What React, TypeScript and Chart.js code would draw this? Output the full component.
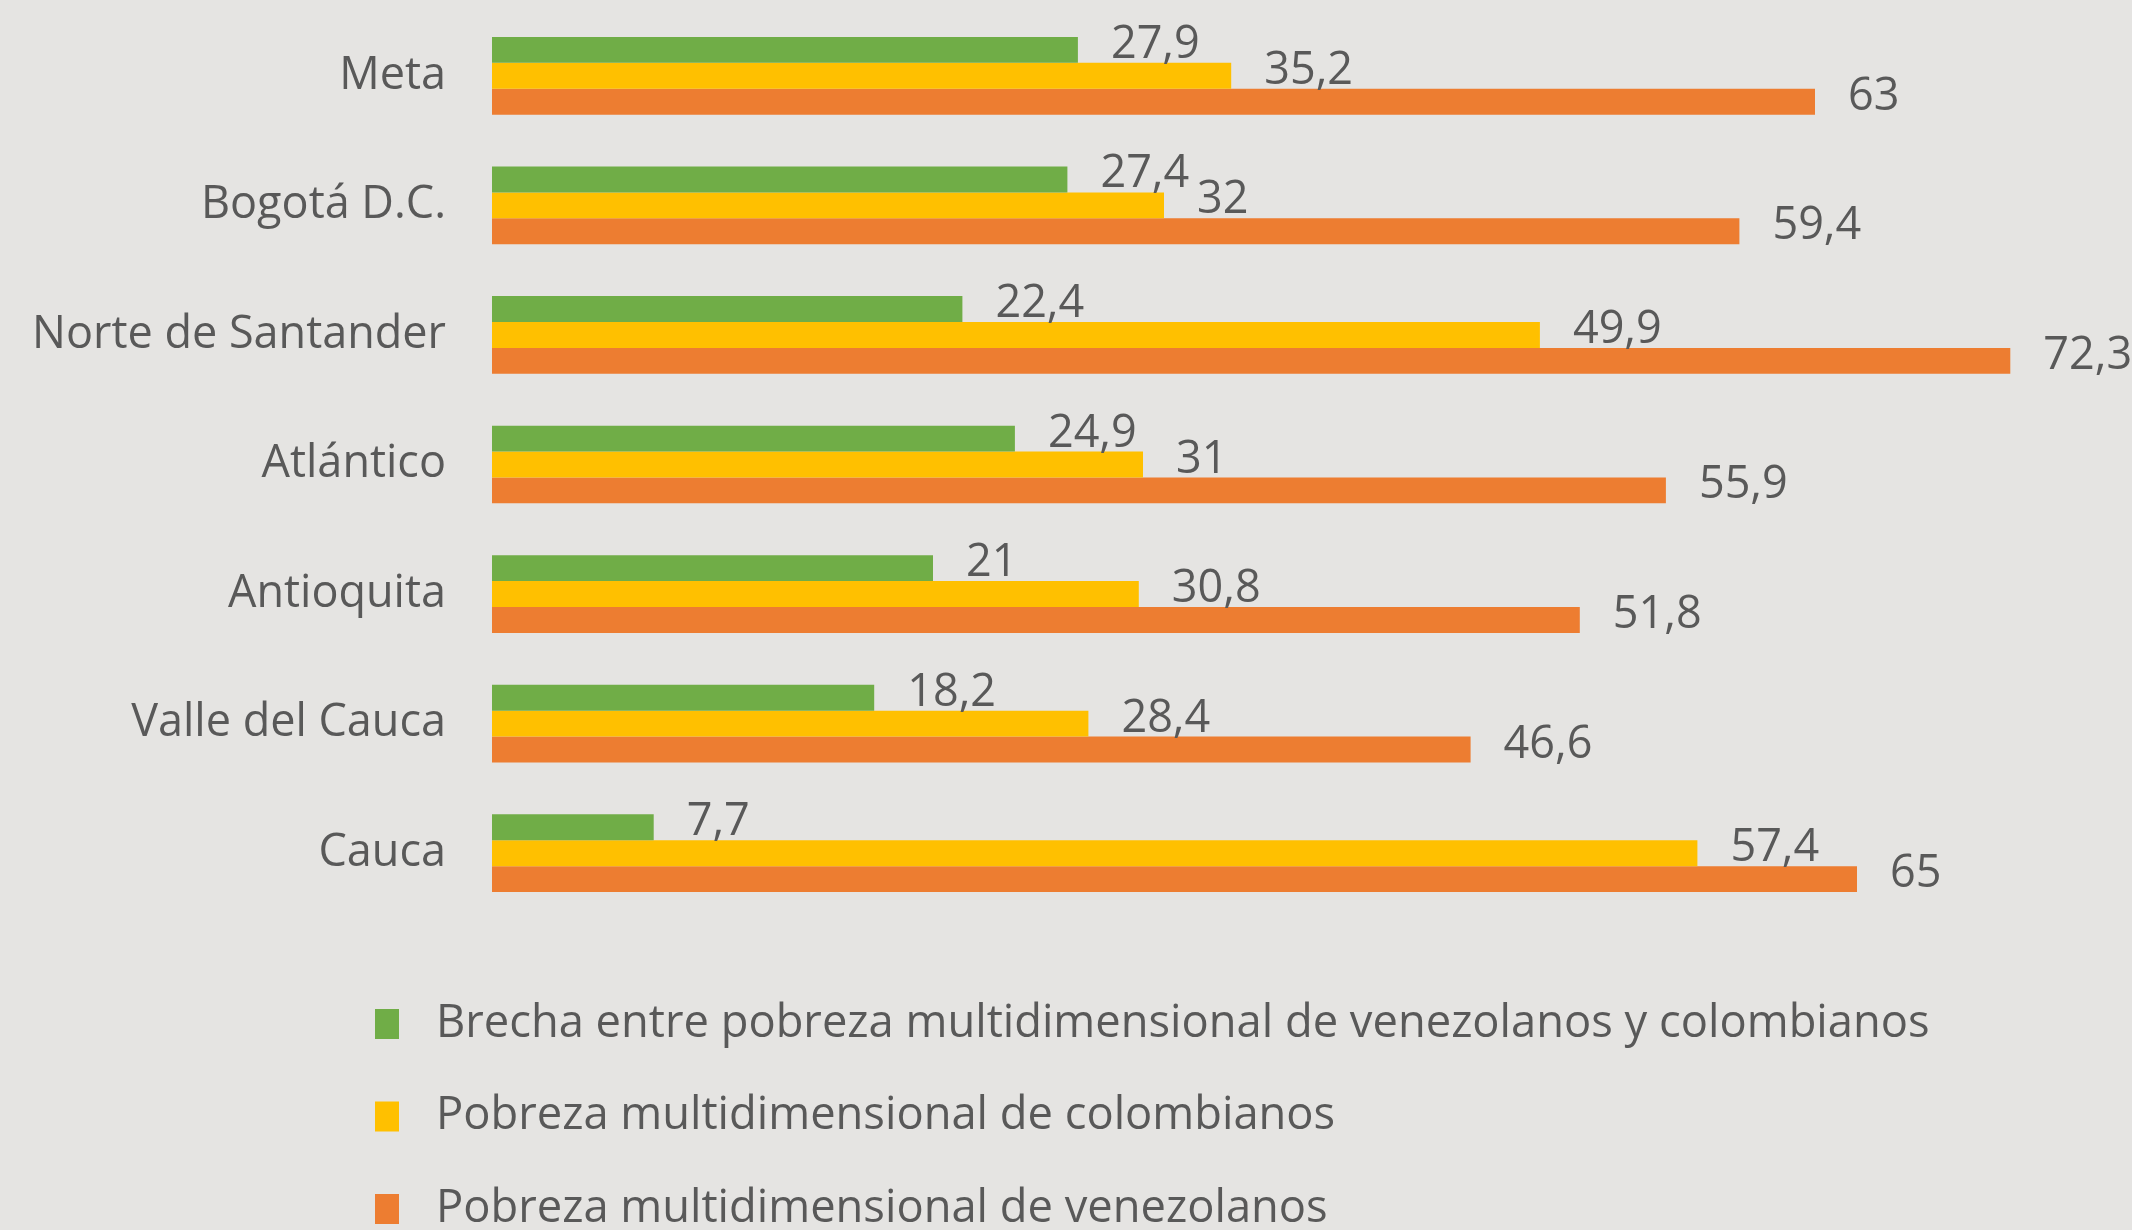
import React, { useEffect, useRef } from "react";
import { Chart, registerables } from "chart.js";

Chart.register(...registerables);

const categories = [
  "Meta",
  "Bogotá D.C.",
  "Norte de Santander",
  "Atlántico",
  "Antioquita",
  "Valle del Cauca",
  "Cauca",
];
const seriesNames = [
  "Brecha entre pobreza multidimensional de venezolanos y colombianos",
  "Pobreza multidimensional de colombianos",
  "Pobreza multidimensional de venezolanos",
];
const brecha = [27.9, 27.4, 22.4, 24.9, 21, 18.2, 7.7];
const colombianos = [35.2, 32, 49.9, 31, 30.8, 28.4, 57.4];
const venezolanos = [63, 59.4, 72.3, 55.9, 51.8, 46.6, 65];
const colors = ["#70AD47", "#FFC000", "#ED7D31"];

const W = 2132;
const H = 1230;
const BG = "#E5E4E2";
const TEXT = "#595959";
const FONT = '"Open Sans"';

const labelPlugin = {
  id: "valueLabels",
  afterDatasetsDraw(chart: any) {
    const ctx = chart.ctx;
    ctx.save();
    ctx.font = `45px ${FONT}`;
    ctx.fillStyle = TEXT;
    ctx.textAlign = "left";
    ctx.textBaseline = "alphabetic";
    chart.data.datasets.forEach((ds: any, di: number) => {
      const meta = chart.getDatasetMeta(di);
      meta.data.forEach((bar: any, i: number) => {
        const v = ds.data[i];
        const txt = String(v).replace(".", ",");
        ctx.fillText(txt, bar.x + 33, bar.y + 8);
      });
    });
    ctx.restore();
  },
  afterDraw(chart: any) {
    const ctx = chart.ctx;
    ctx.save();
    ctx.font = `45.3px ${FONT}`;
    ctx.textAlign = "left";
    ctx.textBaseline = "middle";
    chart.data.datasets.forEach((ds: any, di: number) => {
      const cy = 1024 + di * 92.5;
      ctx.fillStyle = ds.backgroundColor;
      ctx.fillRect(375, cy - 15, 24, 30);
      ctx.fillStyle = TEXT;
      ctx.fillText(ds.label, 436, cy);
    });
    ctx.restore();
  },
};

export default function App() {
  const ref = useRef<HTMLCanvasElement>(null);
  useEffect(() => {
    let chart: any = null;
    let cancelled = false;
    const make = () => {
      if (cancelled || !ref.current) return;
      chart = new Chart(ref.current, {
        type: "bar",
        data: {
          labels: categories,
          datasets: [brecha, colombianos, venezolanos].map((d, i) => ({
            label: seriesNames[i],
            data: d,
            backgroundColor: colors[i],
            borderWidth: 0,
            categoryPercentage: 0.6,
            barPercentage: 1.0,
          })),
        },
        options: {
          indexAxis: "y",
          responsive: false,
          animation: false,
          layout: { padding: { top: 11, bottom: 312, left: 0, right: 65 } },
          plugins: {
            legend: { display: false },
            tooltip: { enabled: false },
          },
          scales: {
            x: { display: false, min: 0, max: 75 },
            y: {
              grid: { display: false, drawTicks: false },
              border: { display: false },
              ticks: {
                color: TEXT,
                font: { family: FONT, size: 45 },
                padding: 46,
              },
              afterFit(scale: any) {
                scale.width = 492;
                scale.paddingTop = 0;
                scale.paddingBottom = 0;
              },
            },
          },
        },
        plugins: [labelPlugin],
      } as any);
    };
    const fontsAny = (document as any).fonts;
    if (fontsAny && fontsAny.load) {
      fontsAny.load(`45px ${FONT}`).then(make, make);
    } else {
      make();
    }
    return () => {
      cancelled = true;
      if (chart) chart.destroy();
    };
  }, []);
  return (
    <div
      style={{
        position: "absolute",
        left: 0,
        top: 0,
        width: W,
        height: H,
        background: BG,
      }}
    >
      <canvas ref={ref} width={W} height={H} style={{ display: "block" }} />
    </div>
  );
}
